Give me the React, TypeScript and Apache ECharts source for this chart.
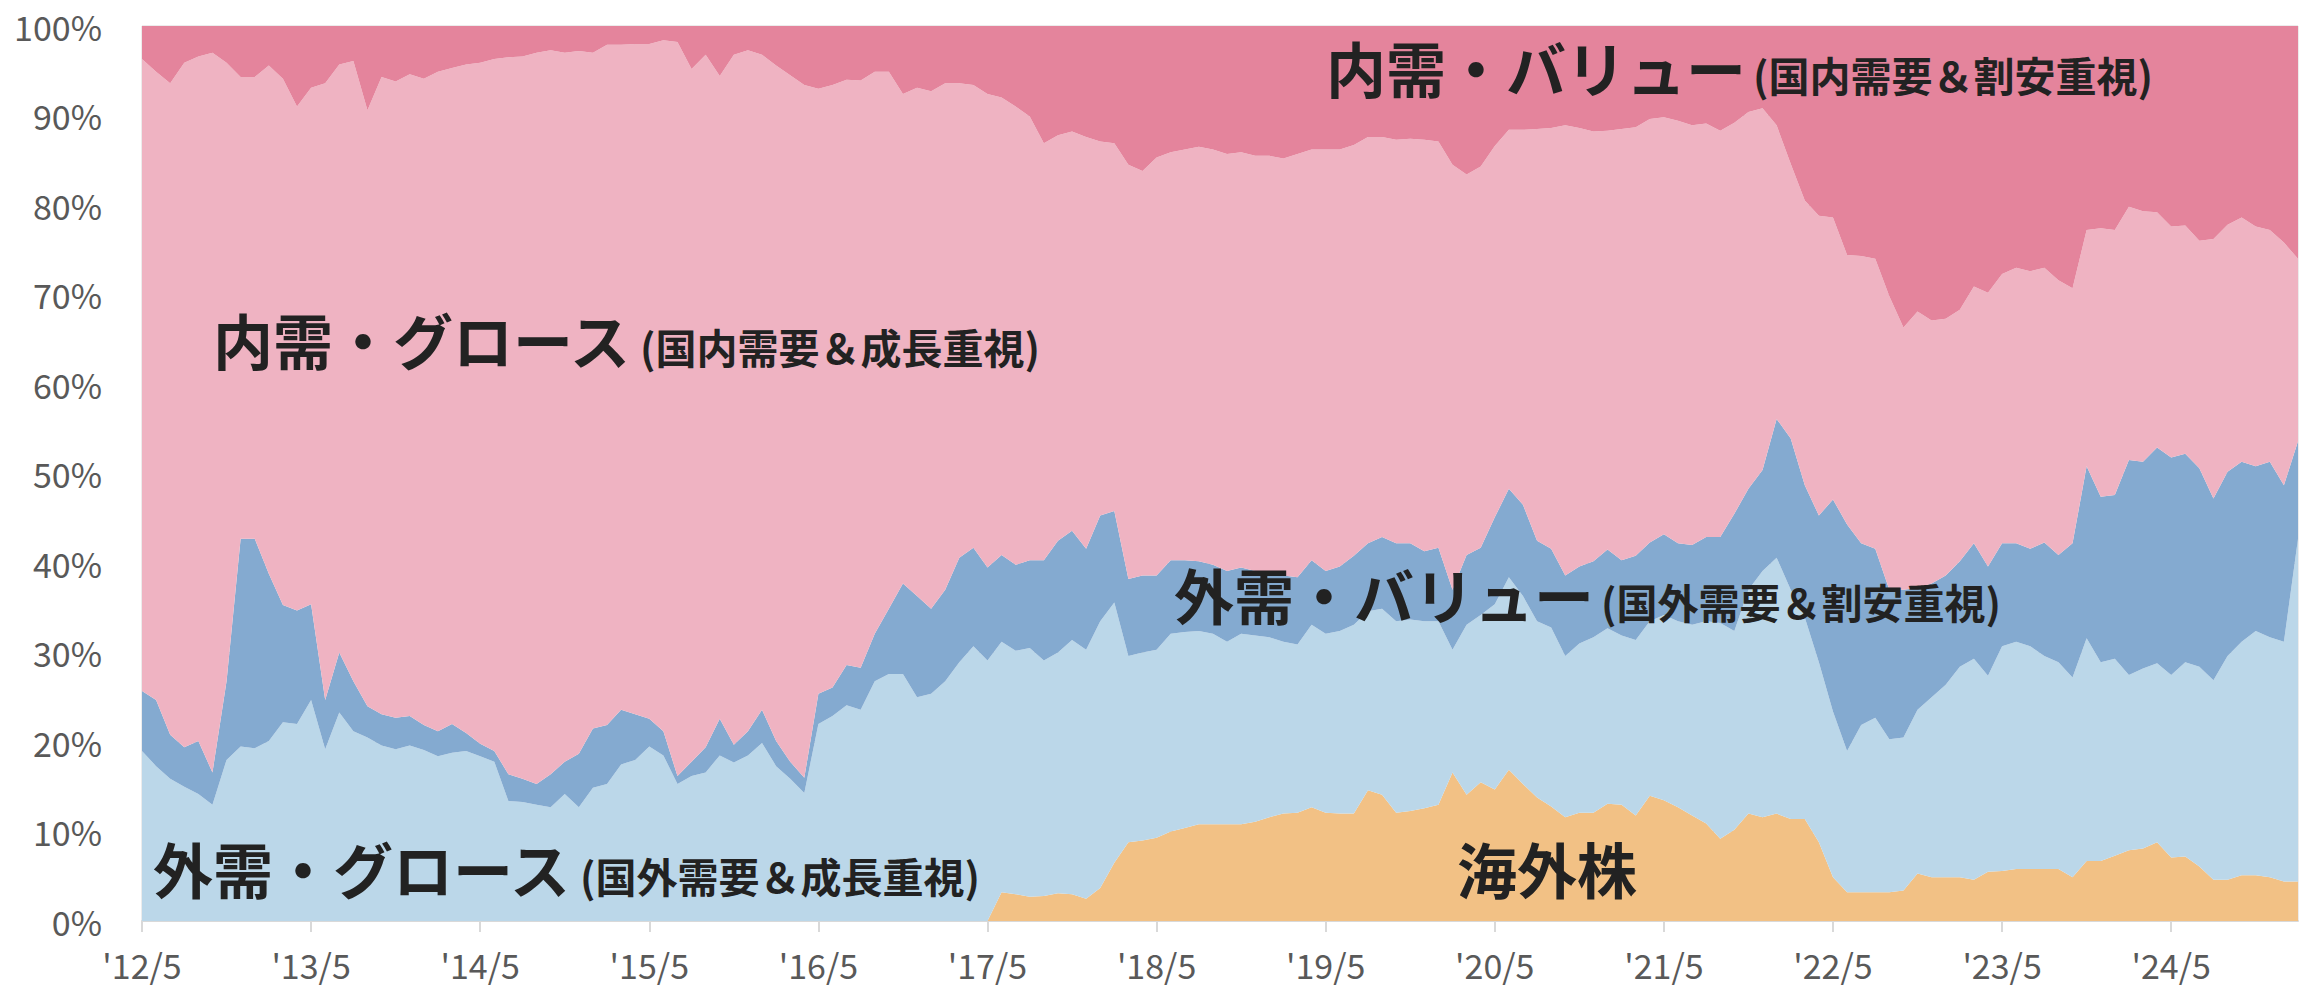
import React, { useEffect, useRef } from "react";
import * as echarts from "echarts";

// Monthly categories, 2012/5 – 2025/2
const categories: string[] = [
  "'12/5", "'12/6", "'12/7", "'12/8", "'12/9", "'12/10", "'12/11", "'12/12", "'13/1", "'13/2", "'13/3", "'13/4",
  "'13/5", "'13/6", "'13/7", "'13/8", "'13/9", "'13/10", "'13/11", "'13/12", "'14/1", "'14/2", "'14/3", "'14/4",
  "'14/5", "'14/6", "'14/7", "'14/8", "'14/9", "'14/10", "'14/11", "'14/12", "'15/1", "'15/2", "'15/3", "'15/4",
  "'15/5", "'15/6", "'15/7", "'15/8", "'15/9", "'15/10", "'15/11", "'15/12", "'16/1", "'16/2", "'16/3", "'16/4",
  "'16/5", "'16/6", "'16/7", "'16/8", "'16/9", "'16/10", "'16/11", "'16/12", "'17/1", "'17/2", "'17/3", "'17/4",
  "'17/5", "'17/6", "'17/7", "'17/8", "'17/9", "'17/10", "'17/11", "'17/12", "'18/1", "'18/2", "'18/3", "'18/4",
  "'18/5", "'18/6", "'18/7", "'18/8", "'18/9", "'18/10", "'18/11", "'18/12", "'19/1", "'19/2", "'19/3", "'19/4",
  "'19/5", "'19/6", "'19/7", "'19/8", "'19/9", "'19/10", "'19/11", "'19/12", "'20/1", "'20/2", "'20/3", "'20/4",
  "'20/5", "'20/6", "'20/7", "'20/8", "'20/9", "'20/10", "'20/11", "'20/12", "'21/1", "'21/2", "'21/3", "'21/4",
  "'21/5", "'21/6", "'21/7", "'21/8", "'21/9", "'21/10", "'21/11", "'21/12", "'22/1", "'22/2", "'22/3", "'22/4",
  "'22/5", "'22/6", "'22/7", "'22/8", "'22/9", "'22/10", "'22/11", "'22/12", "'23/1", "'23/2", "'23/3", "'23/4",
  "'23/5", "'23/6", "'23/7", "'23/8", "'23/9", "'23/10", "'23/11", "'23/12", "'24/1", "'24/2", "'24/3", "'24/4",
  "'24/5", "'24/6", "'24/7", "'24/8", "'24/9", "'24/10", "'24/11", "'24/12", "'25/1", "'25/2",
];

// 海外株 (%)
const overseas: number[] = [
  0, 0, 0, 0, 0, 0, 0, 0, 0, 0, 0, 0,
  0, 0, 0, 0, 0, 0, 0, 0, 0, 0, 0, 0,
  0, 0, 0, 0, 0, 0, 0, 0, 0, 0, 0, 0,
  0, 0, 0, 0, 0, 0, 0, 0, 0, 0, 0, 0,
  0, 0, 0, 0, 0, 0, 0, 0, 0, 0, 0, 0,
  0, 3.2, 3.0, 2.7, 2.8, 3.1, 3.0, 2.5, 3.7, 6.5, 8.8, 9.0,
  9.3, 10.0, 10.4, 10.8, 10.8, 10.8, 10.8, 11.1, 11.6, 12.0, 12.1, 12.7,
  12.1, 12.0, 12.0, 14.6, 14.1, 12.1, 12.3, 12.6, 13.0, 16.6, 14.1, 15.5,
  14.7, 16.9, 15.3, 13.8, 12.8, 11.6, 12.1, 12.1, 13.1, 13.0, 11.8, 14.0,
  13.5, 12.7, 11.8, 10.9, 9.2, 10.2, 12.0, 11.6, 12.0, 11.4, 11.4, 8.8,
  4.9, 3.2, 3.2, 3.2, 3.2, 3.4, 5.3, 4.9, 4.9, 4.9, 4.6, 5.5,
  5.6, 5.8, 5.8, 5.8, 5.8, 4.9, 6.7, 6.7, 7.3, 7.9, 8.1, 8.8,
  7.1, 7.2, 6.1, 4.6, 4.6, 5.1, 5.1, 4.9, 4.4, 4.4,
];

// 外需・グロース (%)
const extGrowth: number[] = [
  19.0, 17.3, 15.9, 15.0, 14.2, 13.0, 18.0, 19.5, 19.3, 20.1, 22.2, 22.0,
  24.7, 19.2, 23.3, 21.2, 20.5, 19.6, 19.2, 19.6, 19.1, 18.4, 18.8, 19.0,
  18.4, 17.8, 13.4, 13.3, 13.0, 12.7, 14.2, 12.7, 14.9, 15.3, 17.5, 18.0,
  19.5, 18.5, 15.3, 16.2, 16.6, 18.5, 17.7, 18.5, 19.9, 17.3, 15.9, 14.3,
  22.0, 22.9, 24.1, 23.6, 26.8, 27.6, 27.6, 25.0, 25.4, 26.8, 28.9, 30.7,
  29.1, 28.0, 27.2, 27.8, 26.3, 26.9, 28.4, 27.8, 29.8, 29.1, 20.8, 21.0,
  21.0, 22.1, 21.9, 21.6, 21.3, 20.4, 21.3, 20.8, 20.1, 19.2, 18.8, 20.4,
  20.0, 20.4, 21.1, 20.0, 20.8, 21.4, 21.4, 20.9, 20.5, 13.7, 19.0, 18.7,
  20.7, 21.5, 21.0, 19.7, 20.0, 18.0, 18.9, 19.6, 19.6, 18.9, 19.6, 19.5,
  20.7, 20.8, 21.3, 22.6, 24.1, 22.2, 25.0, 27.5, 28.6, 25.6, 22.5, 20.1,
  18.5, 15.8, 18.7, 19.5, 17.1, 17.1, 18.3, 20.1, 21.5, 23.5, 24.7, 21.9,
  25.1, 25.4, 24.9, 23.8, 23.1, 22.3, 24.9, 22.2, 22.0, 19.6, 20.1, 20.0,
  20.4, 21.7, 22.3, 22.3, 25.0, 26.1, 27.3, 26.8, 26.8, 38.3,
];

// 外需・バリュー (%)
const extValue: number[] = [
  6.7, 7.4, 4.9, 4.4, 5.9, 3.6, 8.8, 23.2, 23.4, 18.7, 13.1, 12.7,
  10.7, 5.5, 6.7, 5.6, 3.5, 3.5, 3.5, 3.3, 2.8, 2.8, 3.2, 2.0,
  1.4, 1.2, 3.0, 2.6, 2.3, 3.7, 3.6, 6.0, 6.6, 6.6, 6.1, 5.1,
  3.1, 2.7, 0.9, 1.6, 2.8, 4.1, 2.0, 2.7, 3.7, 2.8, 1.9, 1.7,
  3.4, 3.2, 4.5, 4.7, 5.3, 7.3, 10.1, 11.3, 9.5, 10.2, 11.7, 11.0,
  10.4, 9.7, 9.6, 9.8, 11.2, 12.5, 12.2, 11.3, 11.8, 10.2, 8.6, 8.6,
  8.3, 8.2, 8.0, 7.8, 7.7, 7.9, 7.4, 7.2, 7.4, 7.4, 7.5, 7.2,
  7.0, 7.2, 7.7, 7.6, 8.0, 8.7, 8.5, 7.8, 8.2, 6.7, 7.8, 7.5,
  9.7, 9.9, 10.2, 9.0, 8.8, 9.0, 8.6, 8.5, 8.8, 8.4, 9.4, 8.8,
  9.0, 8.7, 8.9, 9.4, 9.6, 13.1, 11.3, 11.3, 15.5, 16.9, 14.8, 16.4,
  23.7, 25.3, 20.3, 18.9, 16.7, 16.5, 13.6, 12.7, 12.2, 11.8, 12.9, 12.2,
  11.5, 11.0, 10.9, 12.7, 12.0, 15.0, 19.2, 18.5, 18.3, 24.0, 23.1, 24.1,
  24.3, 23.3, 22.2, 20.3, 20.6, 20.1, 18.4, 19.6, 17.5, 10.9,
];

// 内需・グロース (%)
const domGrowth: number[] = [
  70.6, 70.2, 72.8, 76.5, 76.5, 80.4, 69.1, 51.6, 51.6, 56.8, 58.8, 56.3,
  57.7, 68.9, 65.7, 69.3, 66.6, 71.2, 71.1, 71.7, 72.2, 73.7, 73.3, 74.7,
  76.1, 77.3, 80.1, 80.7, 81.7, 80.9, 79.2, 78.5, 75.5, 76.0, 74.3, 74.9,
  75.4, 77.2, 82.0, 77.4, 77.4, 71.8, 77.1, 76.1, 73.2, 75.5, 76.7, 77.4,
  67.6, 67.3, 65.4, 65.6, 62.8, 60.0, 54.7, 56.8, 57.8, 56.6, 53.0, 51.7,
  52.9, 51.1, 51.2, 49.6, 46.6, 45.3, 44.6, 46.0, 41.8, 41.1, 46.3, 45.2,
  46.7, 45.6, 45.9, 46.3, 46.4, 46.6, 46.4, 46.4, 46.4, 46.6, 47.3, 45.9,
  47.1, 46.6, 45.9, 45.4, 44.7, 45.1, 45.2, 46.0, 45.4, 47.5, 42.5, 42.6,
  41.5, 40.1, 41.9, 46.0, 47.0, 50.3, 49.0, 48.0, 46.8, 48.2, 47.9, 47.3,
  46.6, 47.2, 46.9, 46.2, 45.4, 43.7, 42.1, 40.4, 32.8, 30.7, 31.8, 33.5,
  31.5, 30.1, 32.1, 32.4, 32.8, 29.3, 30.9, 29.4, 28.7, 28.1, 28.7, 30.6,
  30.1, 30.8, 31.0, 30.7, 30.7, 28.5, 26.4, 30.0, 29.6, 28.3, 28.0, 26.3,
  25.8, 25.5, 25.4, 29.0, 27.6, 27.3, 26.8, 25.9, 27.1, 20.4,
];

// 内需・バリュー (%)
const domValue: number[] = [
  3.7, 5.1, 6.4, 4.1, 3.4, 3.0, 4.1, 5.7, 5.7, 4.4, 5.9, 9.0,
  6.9, 6.4, 4.3, 3.9, 9.4, 5.7, 6.2, 5.4, 5.9, 5.1, 4.7, 4.3,
  4.1, 3.7, 3.5, 3.4, 3.0, 2.7, 3.0, 2.8, 3.0, 2.1, 2.1, 2.0,
  2.0, 1.6, 1.8, 4.8, 3.2, 5.6, 3.2, 2.7, 3.2, 4.4, 5.5, 6.6,
  7.0, 6.6, 6.0, 6.1, 5.1, 5.1, 7.6, 6.9, 7.3, 6.4, 6.4, 6.6,
  7.6, 8.0, 9.0, 10.1, 13.1, 12.2, 11.8, 12.4, 12.9, 13.1, 15.5, 16.2,
  14.7, 14.1, 13.8, 13.5, 13.8, 14.3, 14.1, 14.5, 14.5, 14.8, 14.3, 13.8,
  13.8, 13.8, 13.3, 12.4, 12.4, 12.7, 12.6, 12.7, 12.9, 15.5, 16.6, 15.7,
  13.4, 11.6, 11.6, 11.5, 11.4, 11.1, 11.4, 11.8, 11.7, 11.5, 11.3, 10.4,
  10.2, 10.6, 11.1, 10.9, 11.7, 10.8, 9.6, 9.2, 11.1, 15.4, 19.5, 21.2,
  21.4, 25.6, 25.7, 26.0, 30.2, 33.7, 31.9, 32.9, 32.7, 31.7, 29.1, 29.8,
  27.7, 27.0, 27.4, 27.0, 28.4, 29.3, 22.8, 22.6, 22.8, 20.2, 20.7, 20.8,
  22.4, 22.3, 24.0, 23.8, 22.2, 21.4, 22.4, 22.8, 24.2, 26.0,
];

const seriesNames = ["海外株", "外需・グロース", "外需・バリュー", "内需・グロース", "内需・バリュー"];
const seriesColors = ["#F2C185", "#BBD7E9", "#84AAD0", "#EFB3C2", "#E4849C"];

const FONT = '"Noto Sans CJK JP", "Noto Sans", sans-serif';

export default function App() {
  const ref = useRef<HTMLDivElement>(null);

  useEffect(() => {
    document.body.style.margin = "0";
    if (!ref.current) return;
    const chart = echarts.init(ref.current, null, { renderer: "svg" });
    const dataSets = [overseas, extGrowth, extValue, domGrowth, domValue];

    const mainLabel = (text: string, x: number, y: number) => ({
      type: "text",
      x,
      y,
      z: 100,
      style: {
        text,
        fontSize: 60,
        fontWeight: "bold",
        fontFamily: FONT,
        fill: "#222222",
        align: "left",
        verticalAlign: "middle",
      },
    });
    const subLabel = (text: string, x: number, y: number) => ({
      type: "text",
      x,
      y,
      z: 100,
      style: {
        text,
        fontSize: 41,
        fontWeight: "bold",
        fontFamily: FONT,
        fill: "#222222",
        align: "left",
        verticalAlign: "middle",
      },
    });

    chart.setOption({
      animation: false,
      grid: {
        left: 142,
        right: 13,
        top: 26,
        bottom: 67,
        show: true,
        borderColor: "#d9d9d9",
        borderWidth: 1,
        containLabel: false,
        outerBoundsMode: "none",
      },
      xAxis: {
        type: "category",
        data: categories,
        boundaryGap: false,
        axisLine: { show: true, lineStyle: { color: "#d9d9d9", width: 2 } },
        axisTick: { show: true, interval: 11, length: 11, lineStyle: { color: "#d9d9d9", width: 2 } },
        axisLabel: {
          interval: 11,
          color: "#595959",
          fontSize: 34,
          fontFamily: FONT,
          margin: 26,
        },
        splitLine: { show: false },
      },
      yAxis: {
        type: "value",
        min: 0,
        max: 100,
        interval: 10,
        axisLine: { show: false },
        axisTick: { show: false },
        splitLine: { show: true, lineStyle: { color: "#d9d9d9", width: 1 } },
        axisLabel: {
          formatter: "{value}%",
          color: "#595959",
          fontSize: 34,
          fontFamily: FONT,
          margin: 40,
        },
      },
      series: dataSets.map((d, i) => ({
        name: seriesNames[i],
        type: "line",
        stack: "total",
        data: d,
        symbol: "none",
        showSymbol: false,
        lineStyle: { width: 0, color: seriesColors[i] },
        itemStyle: { color: seriesColors[i] },
        areaStyle: { color: seriesColors[i], opacity: 1 },
        emphasis: { disabled: true },
        silent: true,
      })),
      graphic: [
        mainLabel("内需・バリュー", 1326, 66),
        subLabel("(国内需要＆割安重視)", 1753, 74),
        mainLabel("内需・グロース", 213, 338),
        subLabel("(国内需要＆成長重視)", 640, 346),
        mainLabel("外需・バリュー", 1174, 593),
        subLabel("(国外需要＆割安重視)", 1601, 601),
        mainLabel("外需・グロース", 153, 867),
        subLabel("(国外需要＆成長重視)", 580, 875),
        mainLabel("海外株", 1457, 867),
      ],
    });

    return () => chart.dispose();
  }, []);

  return <div ref={ref} style={{ width: 2311, height: 988 }} />;
}
